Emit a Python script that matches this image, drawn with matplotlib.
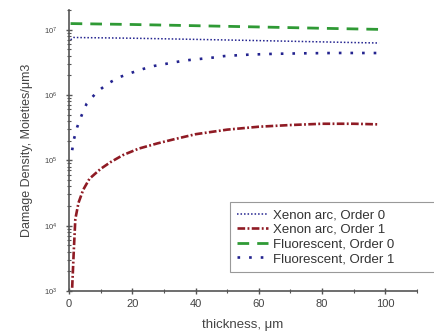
import matplotlib
matplotlib.use("Agg")
import matplotlib.pyplot as plt
from matplotlib.ticker import LogLocator, MultipleLocator, NullFormatter

plt.rcParams['font.family'] = ['Liberation Sans', 'DejaVu Sans']
plt.rcParams['mathtext.default'] = 'regular'

# Xenon arc, Order 0
xe0_x = [0.5, 1.5, 5, 10, 20, 30, 40, 50, 60, 70, 80, 90, 98]
xe0_y = [7.0e6, 7.6e6, 7.55e6, 7.5e6, 7.4e6, 7.25e6, 7.1e6, 6.95e6, 6.8e6, 6.65e6, 6.5e6, 6.35e6, 6.25e6]

# Xenon arc, Order 1
xe1_x = [1.0, 1.5, 2.0, 3.0, 4.5, 6.5, 10, 13, 17, 22, 28, 33, 40, 50, 60, 70, 80, 90, 98]
xe1_y = [1.12e3, 4.0e3, 1.26e4, 2.24e4, 3.55e4, 5.25e4, 7.4e4, 9.3e4, 1.2e5, 1.51e5, 1.82e5,
         2.09e5, 2.51e5, 2.95e5, 3.27e5, 3.47e5, 3.63e5, 3.63e5, 3.55e5]

# Fluorescent, Order 0
fl0_x = [0.5, 20, 40, 60, 80, 98]
fl0_y = [1.24e7, 1.2e7, 1.15e7, 1.1e7, 1.05e7, 1.01e7]

# Fluorescent, Order 1
fl1_x = [1.0, 1.6, 2.6, 4.0, 5.6, 8.8, 12.4, 16, 20, 23.5, 27, 31, 35, 38, 42, 46, 49, 53, 57,
         65, 75, 85, 98]
fl1_y = [1.43e5, 2.14e5, 3.24e5, 4.9e5, 7.4e5, 1.11e6, 1.51e6, 1.88e6, 2.21e6, 2.51e6, 2.79e6,
         3.02e6, 3.27e6, 3.43e6, 3.59e6, 3.76e6, 3.94e6, 4.05e6, 4.15e6, 4.27e6, 4.35e6, 4.40e6, 4.39e6]

labels = ["Xenon arc, Order 0", "Xenon arc, Order 1", "Fluorescent, Order 0", "Fluorescent, Order 1"]

fig = plt.figure(figsize=(4.34, 3.33), dpi=100)
ax = fig.add_axes([69/434, 42/333, (417-69)/434, (291-10)/333])

blue = '#23238f'
red = '#8f1b24'
green = '#2f9a35'

ax.plot(xe0_x, xe0_y, color=blue, lw=1.1, linestyle=(0, (1, 1.3)), label=labels[0])
ax.plot(xe1_x, xe1_y, color=red, lw=1.9, linestyle=(0, (2.9, 0.9, 0.7, 0.9)), label=labels[1])
ax.plot(fl0_x, fl0_y, color=green, lw=2.0, linestyle=(0, (4.2, 2.9)), label=labels[2])
ax.plot(fl1_x, fl1_y, color=blue, lw=1.9, linestyle=(0, (1, 3.4)), label=labels[3])

ax.set_yscale('log')
ax.set_xlim(0, 110)
ax.set_ylim(1e3, 2e7)

for s in ['top', 'right']:
    ax.spines[s].set_visible(False)
for s in ['left', 'bottom']:
    ax.spines[s].set_color('#555555')
    ax.spines[s].set_linewidth(1.2)

ax.xaxis.set_major_locator(MultipleLocator(20))
ax.xaxis.set_minor_locator(MultipleLocator(10))
ax.yaxis.set_major_locator(LogLocator(base=10, numticks=10))
ax.yaxis.set_minor_locator(LogLocator(base=10, subs=range(2, 10), numticks=20))
ax.yaxis.set_minor_formatter(NullFormatter())

ax.tick_params(axis='both', which='major', direction='inout', length=5, width=1, color='#555555')
ax.tick_params(axis='both', which='minor', direction='inout', length=3, width=0.8, color='#555555')
ax.tick_params(axis='x', which='major', labelsize=8, labelcolor='#444444', pad=3)
ax.tick_params(axis='y', which='major', labelsize=5.5, labelcolor='#444444', pad=6)

ax.set_xlabel("thickness, \u03bcm", fontsize=9.5, color='#444444', labelpad=7.5)
ax.set_ylabel("Damage Density, Moieties/\u03bcm3", fontsize=9, color='#444444', labelpad=7.5)

x0 = (230 - 69) / 348
y0 = (291 - 272.3) / 281
w = (436 - 230) / 348
leg = ax.legend(loc='lower left', bbox_to_anchor=(x0, y0, w, 0.1), mode='expand', fontsize=9.5,
                frameon=True, fancybox=False, edgecolor='#999999', framealpha=1, handlelength=2.35,
                handletextpad=0.38, labelspacing=0.18, borderpad=0.55, borderaxespad=0,
                labelcolor='#333333')
leg.get_frame().set_linewidth(0.8)
leg.set_clip_on(False)

fig.savefig("out.png", dpi=100)
